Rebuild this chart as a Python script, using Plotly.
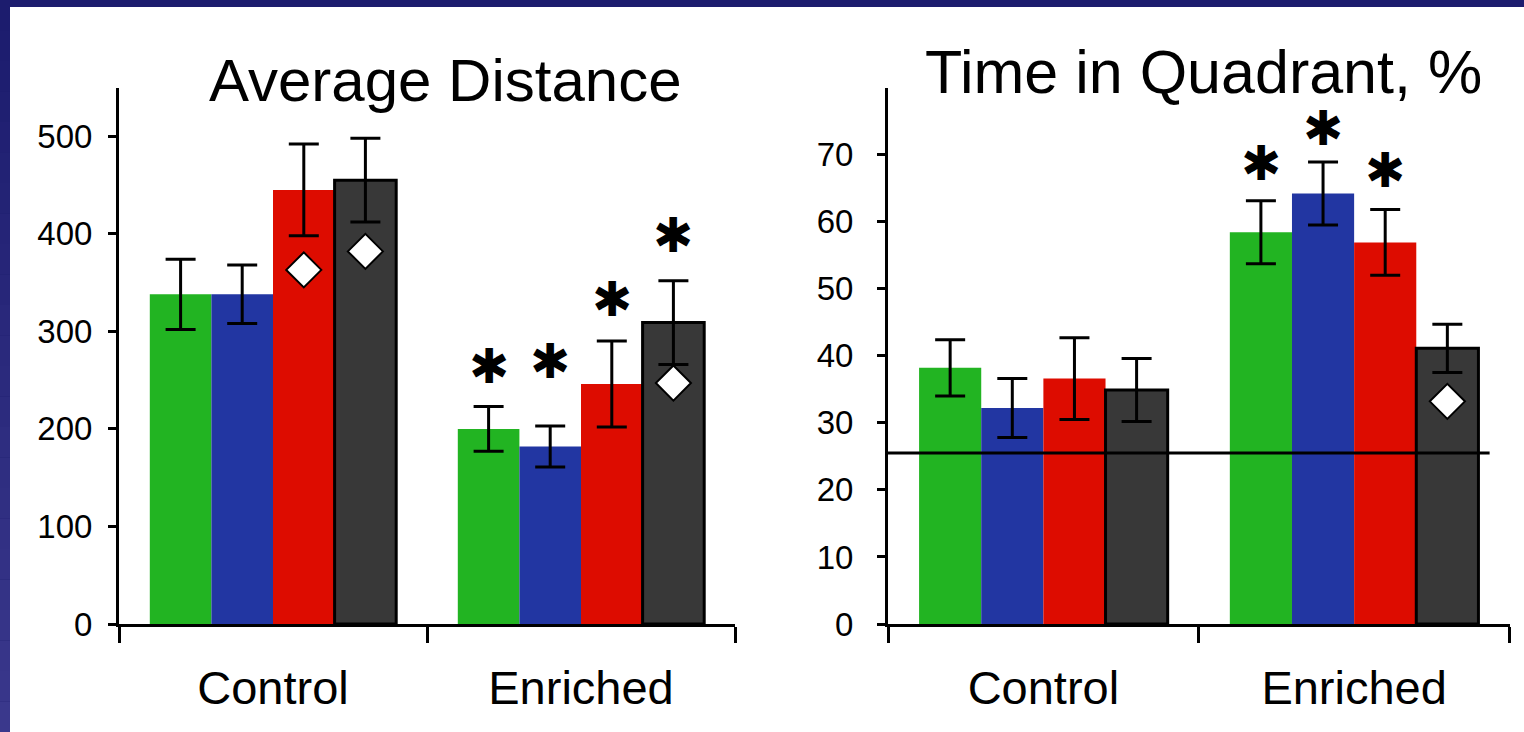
import plotly.graph_objects as go

# ---------------- data ----------------
categories = ["Control", "Enriched"]
series_names = ["Green", "Blue", "Red", "Dark"]
series_colors = ["#22b422", "#2236a2", "#dd0c00", "#383838"]

# Average Distance
dist_green = [338, 200]
dist_green_err = [36, 23]
dist_blue = [338, 182]
dist_blue_err = [30, 21]
dist_red = [445, 246]
dist_red_err = [47, 44]
dist_dark = [455, 309]
dist_dark_err = [43, 43]
dist_diamond_red = [363, None]
dist_diamond_dark = [382, 247]
# significance stars (height of the star, None = no star)
dist_star_green = [None, 265]
dist_star_blue = [None, 270]
dist_star_red = [None, 333]
dist_star_dark = [None, 399]
dist_ticks = [0, 100, 200, 300, 400, 500]

# Time in Quadrant, %
quad_green = [38.2, 58.4]
quad_green_err = [4.2, 4.7]
quad_blue = [32.2, 64.2]
quad_blue_err = [4.4, 4.7]
quad_red = [36.6, 56.9]
quad_red_err = [6.1, 4.9]
quad_dark = [34.9, 41.1]
quad_dark_err = [4.7, 3.6]
quad_diamond_red = [None, None]
quad_diamond_dark = [None, 33.2]
quad_star_green = [None, 68.7]
quad_star_blue = [None, 73.9]
quad_star_red = [None, 67.7]
quad_star_dark = [None, None]
quad_chance = 25.5
quad_ticks = [0, 10, 20, 30, 40, 50, 60, 70]

FONT = "Liberation Sans, Arial, sans-serif"
BARGAP = 0.2
W, H = 1524, 732

fig = go.Figure()

panels = [
    dict(x="x", y="y", xo="x3",
         vals=[dist_green, dist_blue, dist_red, dist_dark],
         errs=[dist_green_err, dist_blue_err, dist_red_err, dist_dark_err],
         dia=[None, None, dist_diamond_red, dist_diamond_dark],
         stars=[dist_star_green, dist_star_blue, dist_star_red, dist_star_dark]),
    dict(x="x2", y="y2", xo="x4",
         vals=[quad_green, quad_blue, quad_red, quad_dark],
         errs=[quad_green_err, quad_blue_err, quad_red_err, quad_dark_err],
         dia=[None, None, quad_diamond_red, quad_diamond_dark],
         stars=[quad_star_green, quad_star_blue, quad_star_red, quad_star_dark]),
]

annotations = []
bw = (1 - BARGAP) / len(series_names)
for p in panels:
    for k, name in enumerate(series_names):
        dark = (k == 3)
        fig.add_trace(go.Bar(
            x=categories, y=p["vals"][k], name=name,
            xaxis=p["x"], yaxis=p["y"], showlegend=False,
            marker=dict(color=series_colors[k],
                        line=dict(color="#000000", width=3 if dark else 0)),
            error_y=dict(type="data", array=p["errs"][k], visible=True,
                         color="#000000", thickness=3, width=15),
        ))
    for k, name in enumerate(series_names):
        pos = [i + (k - 1.5) * bw for i in range(len(categories))]
        d = p["dia"][k]
        if d is not None and any(v is not None for v in d):
            fig.add_trace(go.Scatter(
                x=pos, y=d, mode="markers", xaxis=p["xo"], yaxis=p["y"],
                showlegend=False,
                marker=dict(symbol="diamond", size=27, color="#ffffff",
                            line=dict(color="#000000", width=2)),
            ))
        for i, sy in enumerate(p["stars"][k]):
            if sy is not None:
                annotations.append(dict(
                    x=pos[i], y=sy, xref=p["xo"], yref=p["y"], text="✱",
                    showarrow=False, yanchor="middle", yshift=0,
                    font=dict(family="DejaVu Sans", size=48, color="#000000"),
                ))

shapes = []
# background: navy frame with gradient on left, white panel
shapes.append(dict(type="rect", xref="paper", yref="paper", x0=0, x1=1, y0=0, y1=1,
                   fillcolor="#1c1c6e", line=dict(width=0), layer="below"))
n = 24
for j in range(n):
    t = j / (n - 1)
    r = int(28 + (58 - 28) * t)
    g = int(28 + (56 - 28) * t)
    b = int(110 + (140 - 110) * t)
    shapes.append(dict(type="rect", xref="paper", yref="paper",
                       x0=0, x1=10 / W, y0=1 - (j + 1) / n, y1=1 - j / n,
                       fillcolor=f"rgb({r},{g},{b})", line=dict(width=0), layer="below"))
shapes.append(dict(type="rect", xref="paper", yref="paper", x0=10 / W, x1=1,
                   y0=0, y1=1 - 7 / H, fillcolor="#ffffff", line=dict(width=0), layer="below"))
# chance line
shapes.append(dict(type="line", xref="x2 domain", yref="y2", x0=0, x1=0.968,
                   y0=quad_chance, y1=quad_chance, line=dict(color="#000000", width=3)))

annotations.append(dict(text="Average Distance", x=445 / W, y=1 - 80 / H, xref="paper", yref="paper",
                        showarrow=False, xanchor="center", yanchor="middle",
                        font=dict(family=FONT, size=60, color="#000000")))
annotations.append(dict(text="Time in Quadrant, %", x=1203 / W, y=1 - 72 / H, xref="paper", yref="paper",
                        showarrow=False, xanchor="center", yanchor="middle",
                        font=dict(family=FONT, size=61, color="#000000")))

ydom = [1 - 624 / H, 1 - 87.5 / H]
xcommon = dict(type="category", range=[-0.5, 1.5], showline=True, linewidth=3, linecolor="#000000",
               ticks="outside", ticklen=16, tickwidth=3, tickcolor="#000000", tickson="boundaries",
               showgrid=False, zeroline=False, ticklabelstandoff=21, automargin=False,
               tickfont=dict(family=FONT, size=47, color="#000000"))
ycommon = dict(showline=True, linewidth=3, linecolor="#000000", ticks="outside", ticklen=8,
               tickwidth=3, tickcolor="#000000", showgrid=False, zeroline=False, domain=ydom,
               automargin=False, tickfont=dict(family=FONT, size=33, color="#000000"))

fig.update_layout(
    width=W, height=H, margin=dict(l=0, r=0, t=0, b=0, autoexpand=False),
    paper_bgcolor="#ffffff", plot_bgcolor="rgba(0,0,0,0)",
    barmode="group", bargap=BARGAP, bargroupgap=0,
    showlegend=False,
    xaxis=dict(domain=[119 / W, 735 / W], anchor="y", **xcommon),
    xaxis2=dict(domain=[888 / W, 1509.5 / W], anchor="y2", **xcommon),
    xaxis3=dict(overlaying="x", anchor="y", range=[-0.5, 1.5], visible=False, automargin=False),
    xaxis4=dict(overlaying="x2", anchor="y2", range=[-0.5, 1.5], visible=False, automargin=False),
    yaxis=dict(anchor="x", range=[0, 550], tickvals=dist_ticks, ticklabelstandoff=9, **ycommon),
    yaxis2=dict(anchor="x2", range=[0, 80], tickvals=quad_ticks, ticklabelstandoff=17, **ycommon),
    shapes=shapes, annotations=annotations,
)

fig.write_html("out.html", config={"displayModeBar": False},
               post_script="document.body.style.margin='0';document.body.style.overflow='hidden';")
